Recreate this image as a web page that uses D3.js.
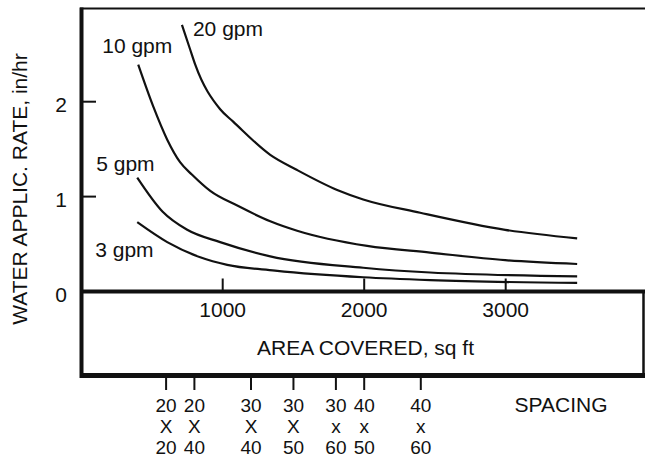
<!DOCTYPE html>
<html>
<head>
<meta charset="utf-8">
<script src="https://cdn.jsdelivr.net/npm/d3@7"></script>
<style>
  body { margin: 0; background: #fff; }
  svg { display: block; }
  text { font-family: "Liberation Sans", Arial, sans-serif; fill: #111; }
</style>
</head>
<body>
<svg id="svgarea" width="645" height="457"></svg>
<script>
// curves: [area sq ft, rate in/hr]
const gpm20 = [[712,2.81],[770,2.55],[806,2.39],[982,1.92],[1074,1.79],[1336,1.44],[1526,1.28],[1809,1.07],[1993,0.97],[2396,0.83],[2996,0.65],[3505,0.56]];
const gpm10 = [[403,2.39],[509,1.95],[608,1.60],[700,1.36],[784,1.23],[912,1.06],[1110,0.90],[1336,0.74],[1526,0.64],[2021,0.48],[2466,0.41],[2996,0.33],[3505,0.29]];
const gpm5  = [[396,1.20],[576,0.84],[749,0.65],[982,0.52],[1336,0.37],[1993,0.25],[2466,0.20],[3505,0.16]];
const gpm3  = [[396,0.73],[608,0.52],[841,0.36],[1032,0.28],[1370,0.22],[1993,0.15],[2466,0.12],[3505,0.09]];

const seriesNames  = ['20 gpm', '10 gpm', '5 gpm', '3 gpm'];
const seriesValues = [gpm20, gpm10, gpm5, gpm3];

const xTicks = [1000, 2000, 3000];
const yTicks = [0, 1, 2];

// sprinkler spacings, placed on the area scale
const spacingAreas  = [600, 800, 1200, 1500, 1800, 2000, 2400];
const spacingLabels = [['20','X','20'], ['20','X','40'], ['30','X','40'], ['30','X','50'],
                       ['30','x','60'], ['40','x','50'], ['40','x','60']];

const svg = d3.select('#svgarea');
const x = d3.scaleLinear().domain([0, 3000]).range([81.2, 505.7]);
const y = d3.scaleLinear().domain([0, 3]).range([291.5, 6.8]);

const axisY = y(0);
const boxBottom = 375.5;
const right = 645;

// frame
function hline(y0, x1, x2, w){
	svg.append('line').attr('x1', x1).attr('x2', x2).attr('y1', y0).attr('y2', y0)
		.attr('stroke', '#111').attr('stroke-width', w);
}
hline(8.5, 80, right, 2);
hline(axisY, 80, right, 4);
hline(boxBottom, 80, right, 5);
svg.append('line').attr('x1', 81.5).attr('x2', 81.5).attr('y1', 7.5).attr('y2', boxBottom + 2.5)
	.attr('stroke', '#111').attr('stroke-width', 4);
svg.append('line').attr('x1', 643.5).attr('x2', 643.5).attr('y1', axisY).attr('y2', boxBottom)
	.attr('stroke', '#111').attr('stroke-width', 2.5);

// y ticks + labels
svg.selectAll('.ytick').data(yTicks.filter(d => d > 0)).join('line')
	.attr('x1', 83).attr('x2', 96).attr('y1', d => y(d)).attr('y2', d => y(d))
	.attr('stroke', '#111').attr('stroke-width', 2);
svg.selectAll('.ylab').data(yTicks).join('text')
	.attr('x', 61).attr('y', d => y(d) + 10).attr('text-anchor', 'middle')
	.attr('font-size', 21).text(d => d);

// x ticks + labels
svg.selectAll('.xtick').data(xTicks).join('line')
	.attr('x1', d => x(d)).attr('x2', d => x(d)).attr('y1', axisY).attr('y2', axisY - 13)
	.attr('stroke', '#111').attr('stroke-width', 2);
svg.selectAll('.xlab').data(xTicks).join('text')
	.attr('x', d => x(d)).attr('y', 317).attr('text-anchor', 'middle')
	.attr('font-size', 21).text(d => d);

svg.append('text').attr('x', 365.5).attr('y', 355).attr('text-anchor', 'middle')
	.attr('font-size', 21).text('AREA COVERED, sq ft');

svg.append('text').attr('transform', 'translate(27,189) rotate(-90)').attr('text-anchor', 'middle')
	.attr('font-size', 21).text('WATER APPLIC. RATE, in/hr');

// curves
const line = d3.line().x(d => x(d[0])).y(d => y(d[1])).curve(d3.curveMonotoneX);
svg.selectAll('.curve').data(seriesValues).join('path')
	.attr('d', line).attr('fill', 'none').attr('stroke', '#111').attr('stroke-width', 2.2)
	.attr('stroke-linejoin', 'round');

// curve labels, offset from each curve's first point
const labelOffsets = [[11, 11], [-36, -12], [-41, -7], [-42, 35]];
seriesValues.forEach(function(s, i){
	svg.append('text')
		.attr('x', x(s[0][0]) + labelOffsets[i][0])
		.attr('y', y(s[0][1]) + labelOffsets[i][1])
		.attr('font-size', 21).text(seriesNames[i]);
});

// spacing scale below the box
svg.selectAll('.stick').data(spacingAreas).join('line')
	.attr('x1', d => x(d)).attr('x2', d => x(d)).attr('y1', boxBottom + 2).attr('y2', 390)
	.attr('stroke', '#111').attr('stroke-width', 2);
const sg = svg.selectAll('.slab').data(spacingAreas).join('g')
	.attr('transform', d => 'translate(' + x(d) + ',0)');
sg.each(function(d, i){
	const g = d3.select(this);
	spacingLabels[i].forEach(function(t, j){
		g.append('text').attr('x', 0).attr('y', 411.5 + j * 21.4)
			.attr('text-anchor', 'middle').attr('font-size', 19).text(t);
	});
});
svg.append('text').attr('x', 561).attr('y', 411.5).attr('text-anchor', 'middle')
	.attr('font-size', 21).text('SPACING');
</script>
</body>
</html>
